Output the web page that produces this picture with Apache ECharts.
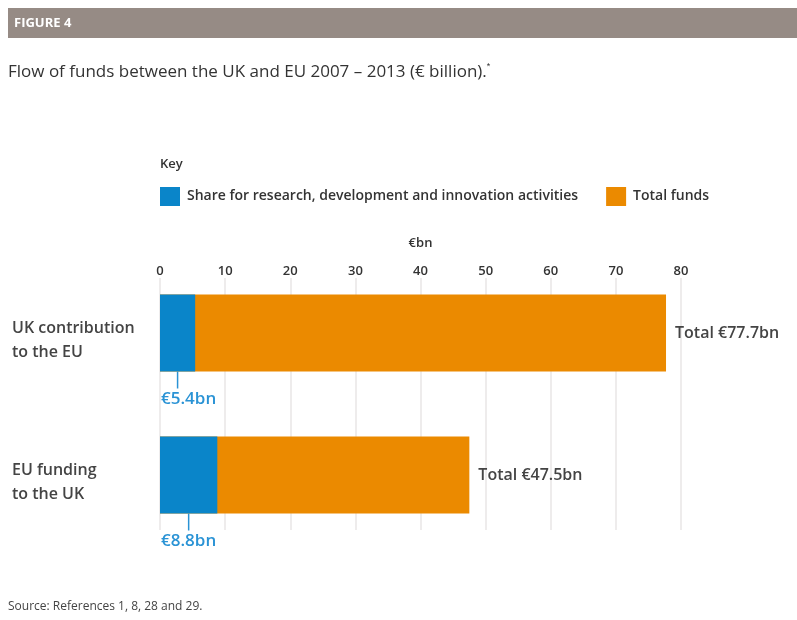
<!DOCTYPE html>
<html>
<head>
<meta charset="UTF-8">
<title>Flow of funds between the UK and EU</title>
<script src="https://cdn.jsdelivr.net/npm/echarts@6/dist/echarts.min.js"></script>
<style>
  html, body { margin: 0; padding: 0; background: #fff; }
  #main { width: 797px; height: 620px; }
</style>
</head>
<body>
<div id="main"></div>
<script type="text/javascript">
// data
var categories = ['UK contribution\nto the EU', 'EU funding\nto the UK'];
var shareValues = [5.4, 8.8];     // research, development and innovation
var totalValues = [77.7, 47.5];   // total funds
var tickValues = [0, 10, 20, 30, 40, 50, 60, 70, 80];

var FONT = '"Open Sans", Lato, sans-serif';
var BLUE = '#0a85c9';
var ORANGE = '#eb8a00';

var chart = echarts.init(document.getElementById('main'));

var shareMarks = shareValues.map(function (v, i) { return [v, i]; });

var option = {
  animation: false,
  textStyle: { fontFamily: FONT },
  legend: {
    left: 160,
    top: 187,
    padding: 0,
    itemWidth: 20,
    itemHeight: 19,
    itemGap: 28,
    icon: 'rect',
    data: ['Share for research, development and innovation activities', 'Total funds'],
    textStyle: { fontSize: 14, color: '#333', fontFamily: FONT, fontWeight: 600, padding: [0, 0, 0, 2] }
  },
  grid: [
    // grid lines and tick labels
    { left: 160, right: 116, top: 278, bottom: 90 },
    // bars
    { left: 160, right: 116, top: 262, bottom: 74 },
    // category labels (sit a little below the bar centres)
    { left: 160, right: 116, top: 269, bottom: 67 }
  ],
  xAxis: [
    {
      gridIndex: 0,
      type: 'value',
      position: 'top',
      min: tickValues[0],
      max: tickValues[tickValues.length - 1],
      interval: 10,
      name: '€bn',
      nameLocation: 'middle',
      nameGap: 28,
      nameTextStyle: { fontSize: 13, color: '#333', fontWeight: 600 },
      axisLine: { show: false },
      axisTick: { show: false },
      axisLabel: { fontSize: 13, color: '#333', margin: 0, fontWeight: 600 },
      splitLine: { show: true, lineStyle: { color: '#e8e6e6', width: 1.5 } }
    },
    {
      gridIndex: 1,
      type: 'value',
      min: tickValues[0],
      max: tickValues[tickValues.length - 1],
      show: false
    },
    {
      gridIndex: 2,
      type: 'value',
      min: tickValues[0],
      max: tickValues[tickValues.length - 1],
      show: false
    }
  ],
  yAxis: [
    {
      gridIndex: 0,
      type: 'category',
      data: categories,
      show: false
    },
    {
      gridIndex: 1,
      type: 'category',
      data: categories,
      inverse: true,
      show: false
    },
    {
      gridIndex: 2,
      type: 'category',
      data: categories,
      inverse: true,
      axisLine: { show: false },
      axisTick: { show: false },
      axisLabel: {
        fontSize: 16,
        color: '#444',
        fontWeight: 600,
        lineHeight: 24,
        align: 'left',
        margin: 148
      }
    }
  ],
  series: [
    {
      name: 'Total funds',
      type: 'bar',
      xAxisIndex: 1,
      yAxisIndex: 1,
      data: totalValues,
      barWidth: 77,
      itemStyle: { color: ORANGE },
      label: {
        show: true,
        position: 'right',
        distance: 9,
        formatter: 'Total €{c}bn',
        fontSize: 16,
        fontWeight: 600,
        color: '#444'
      }
    },
    {
      name: 'Share for research, development and innovation activities',
      type: 'bar',
      xAxisIndex: 1,
      yAxisIndex: 1,
      data: shareValues,
      barWidth: 77,
      barGap: '-100%',
      itemStyle: { color: BLUE }
    },
    {
      name: 'shareLabels',
      type: 'custom',
      xAxisIndex: 1,
      yAxisIndex: 1,
      data: shareMarks,
      encode: { x: 0, y: 1 },
      silent: true,
      renderItem: function (params, api) {
        var v = api.value(0);
        var c = api.value(1);
        var p0 = api.coord([0, c]);
        var p1 = api.coord([v, c]);
        var bottom = p0[1] + 77 / 2;
        var mx = (p0[0] + p1[0]) / 2;
        return {
          type: 'group',
          children: [
            {
              type: 'line',
              shape: { x1: mx, y1: bottom, x2: mx, y2: bottom + 17 },
              style: { stroke: '#2a93d5', lineWidth: 1.5 }
            },
            {
              type: 'text',
              x: p0[0] + 1,
              y: bottom + 28,
              style: {
                text: '€' + v + 'bn',
                fill: '#2a93d5',
                font: '600 17px ' + FONT,
                verticalAlign: 'middle',
                align: 'left'
              }
            }
          ]
        };
      }
    }
  ],
  graphic: [
    {
      type: 'rect',
      shape: { x: 8, y: 8, width: 789, height: 30 },
      style: { fill: '#968b85' }
    },
    {
      type: 'text',
      x: 14, y: 23,
      style: { text: 'FIGURE 4', fill: '#fff', font: 'bold 13px ' + FONT, verticalAlign: 'middle' }
    },
    {
      type: 'text',
      x: 8, y: 72,
      style: {
        text: 'Flow of funds between the UK and EU 2007 – 2013 (€ billion).{sup|*}',
        fill: '#333',
        font: '17px ' + FONT,
        verticalAlign: 'middle',
        rich: {
          sup: { fontSize: 9, fill: '#333', padding: [0, 0, 10, 0] }
        }
      }
    },
    {
      type: 'text',
      x: 160, y: 164,
      style: { text: 'Key', fill: '#333', font: '600 13px ' + FONT, verticalAlign: 'middle' }
    },
    {
      type: 'text',
      x: 8, y: 607,
      style: { text: 'Source: References 1, 8, 28 and 29.', fill: '#444', font: '12px ' + FONT, verticalAlign: 'middle' }
    }
  ]
};

chart.setOption(option);
</script>
</body>
</html>
